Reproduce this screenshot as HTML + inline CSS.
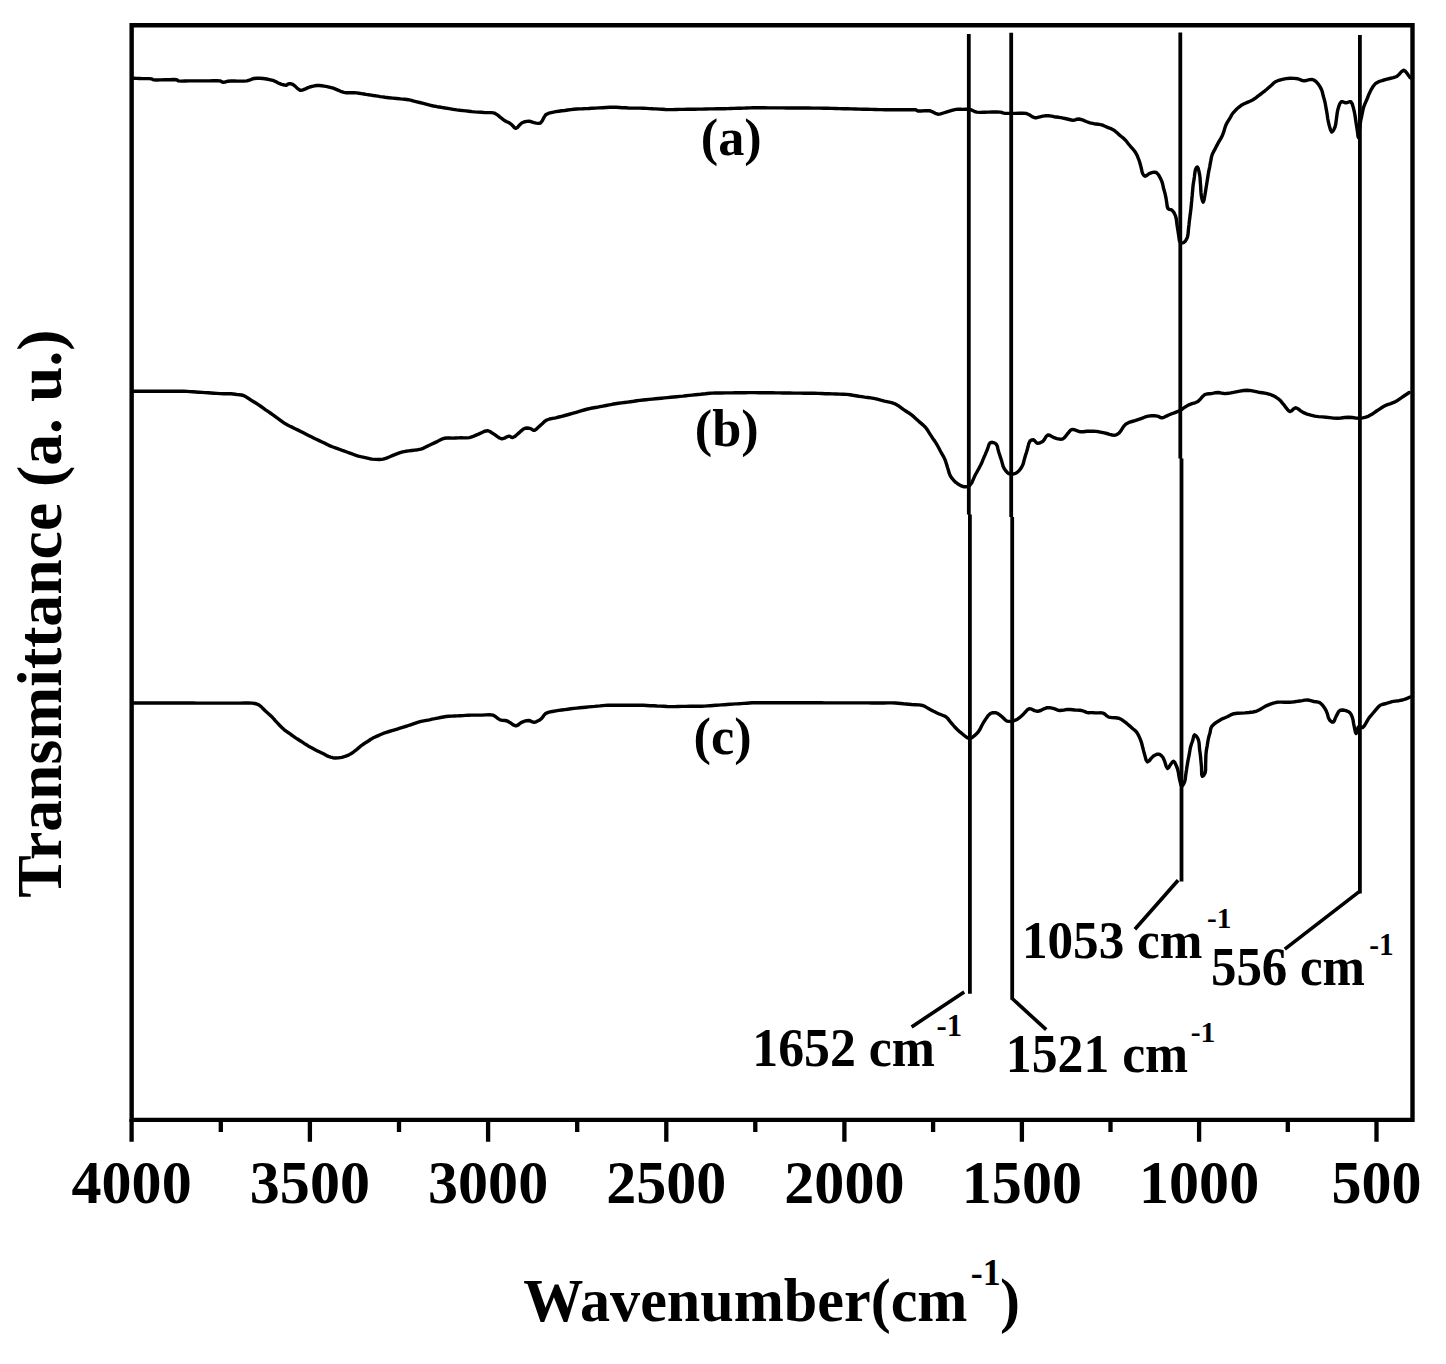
<!DOCTYPE html>
<html><head><meta charset="utf-8"><title>FTIR spectra</title><style>html,body{margin:0;padding:0;background:#fff;}svg{display:block;font-family:"Liberation Serif",serif;}</style></head><body>
<svg width="1446" height="1364" viewBox="0 0 1446 1364">
<rect width="1446" height="1364" fill="#fff"/>
<path d="M131.65,25.3 H1412.5 V1119.9 H131.65 Z" fill="none" stroke="#000" stroke-width="4.4" stroke-linejoin="miter"/>
<path d="M131.6,1119 V1141.8 M309.9,1119 V1141.8 M488.1,1119 V1141.8 M666.3,1119 V1141.8 M844.4,1119 V1141.8 M1021.9,1119 V1141.8 M1199.1,1119 V1141.8 M1376.5,1119 V1141.8 M220.8,1119 V1132 M399.0,1119 V1132 M577.2,1119 V1132 M755.3,1119 V1132 M933.1,1119 V1132 M1110.5,1119 V1132 M1287.8,1119 V1132" stroke="#000" stroke-width="4.3" fill="none"/>
<path d="M968.8,34.1 V514.4 M969.9,514.4 V993.7 M1011.2,32.7 V517 M1012.2,517 V999.8 M1180.3,32.5 V458.5 M1181.5,458.5 V881.6 M1359.9,34.9 V893.4" stroke="#000" stroke-width="3.8" fill="none"/>
<path d="M964.2,992.1 L911.6,1026.9 M1012.2,998.5 L1046.2,1029.7 M1178.1,880.3 L1134.9,929.3 M1359.9,891.1 L1284.8,949.1" stroke="#000" stroke-width="3.6" fill="none"/>
<polyline points="133.6,78.3 136.6,78.4 139.6,78.5 142.6,78.6 145.9,78.6 149.1,78.6 151.6,78.9 152.3,79.2 152.7,79.5 153.4,79.8 156.5,80.0 160.8,79.9 165.1,79.8 169.3,79.7 173.6,79.5 176.7,79.8 177.4,80.1 177.8,80.6 178.5,80.9 181.3,81.1 185.1,81.0 188.9,80.9 192.3,80.9 195.8,80.9 199.2,80.9 202.6,80.9 206.1,80.9 209.6,80.9 213.2,80.8 216.9,80.7 219.9,80.9 221.2,81.4 222.3,82.0 223.5,82.3 224.9,82.1 226.3,81.6 228.0,81.2 230.9,81.0 234.2,81.0 237.4,81.1 240.7,81.1 243.9,81.1 246.9,80.9 249.4,80.2 251.7,79.2 254.1,78.5 257.0,78.2 259.9,78.3 263.0,78.5 266.7,79.0 270.5,79.8 273.8,80.7 275.7,81.6 277.4,82.5 279.2,83.4 281.7,84.3 284.3,85.0 286.4,85.2 287.1,84.8 287.6,84.3 288.2,83.9 289.5,83.7 291.1,83.8 292.7,84.3 295.1,86.1 297.6,88.6 299.9,90.2 301.1,90.3 302.3,90.1 303.5,89.7 305.5,88.9 307.6,87.9 309.8,87.0 312.1,86.3 314.6,85.8 317.0,85.5 319.4,85.5 321.7,85.7 324.2,86.1 327.1,86.6 330.1,87.3 333.2,88.2 336.8,89.6 340.6,91.3 344.0,92.4 346.2,92.7 348.3,92.7 350.3,92.7 352.4,92.7 354.5,92.8 356.6,92.9 359.0,93.2 361.4,93.6 363.8,94.0 366.1,94.4 368.5,94.7 370.9,95.1 373.3,95.5 375.6,95.8 377.9,96.2 380.2,96.6 382.5,96.9 385.0,97.3 388.7,97.7 392.7,98.1 396.7,98.5 400.7,98.9 404.7,99.2 408.4,99.7 411.3,100.3 414.0,101.1 416.8,101.8 419.6,102.5 422.3,103.2 425.1,103.9 427.9,104.6 430.6,105.3 433.5,106.0 437.2,106.7 441.2,107.3 445.2,108.0 449.2,108.6 453.1,109.3 456.9,109.9 460.0,110.3 462.9,110.6 465.9,110.9 468.9,111.2 471.9,111.6 474.9,111.9 478.2,112.1 481.5,112.3 484.8,112.6 488.2,112.6 491.5,112.6 494.7,113.2 497.8,115.1 500.8,117.7 503.7,120.0 506.2,121.4 508.6,122.6 510.9,123.9 512.7,125.7 514.3,127.5 515.9,128.4 517.7,127.3 519.6,124.9 521.7,123.0 524.0,122.0 526.5,121.4 528.8,121.2 530.6,121.5 532.4,122.2 534.2,122.7 536.3,123.1 538.5,123.4 540.5,123.0 542.3,120.7 543.9,117.4 545.9,114.6 548.9,113.2 552.4,112.3 555.8,111.7 558.8,111.2 561.8,110.8 564.8,110.5 567.8,110.0 570.8,109.6 573.8,109.2 576.8,109.0 579.8,108.9 582.8,108.8 585.8,108.6 588.7,108.5 591.8,108.3 595.3,108.1 599.0,107.9 602.6,107.7 606.2,107.5 609.9,107.3 613.4,107.2 616.4,107.3 619.4,107.5 622.3,107.7 625.3,107.8 628.3,108.0 631.3,108.1 634.2,108.1 637.1,108.1 640.0,108.1 643.2,108.2 646.4,108.4 649.6,108.6 652.8,108.8 656.0,108.9 659.2,109.1 662.4,109.3 665.5,109.5 668.8,109.6 672.5,109.6 676.2,109.5 679.9,109.4 683.7,109.4 687.4,109.3 691.1,109.2 694.8,109.2 698.5,109.1 702.2,109.1 705.9,109.0 709.6,108.9 713.4,108.9 717.1,108.8 720.8,108.8 724.5,108.7 727.8,108.6 730.9,108.5 734.1,108.4 737.3,108.3 740.5,108.2 743.7,108.1 746.9,108.0 750.0,107.9 753.3,107.8 756.9,107.8 760.7,107.8 764.4,107.8 768.1,107.9 771.8,107.9 775.5,107.9 779.2,107.9 782.9,107.9 786.6,108.0 790.2,108.0 793.9,108.0 797.6,108.0 801.3,108.0 805.0,108.0 808.7,108.0 812.4,108.1 816.1,108.1 819.8,108.1 823.7,108.2 827.7,108.3 831.7,108.4 835.6,108.5 839.6,108.6 843.5,108.7 847.5,108.8 851.4,108.9 855.4,109.0 859.3,109.1 863.3,109.2 867.2,109.3 871.3,109.4 875.3,109.5 879.1,109.6 881.9,109.6 884.5,109.7 887.0,109.7 889.7,109.7 892.3,109.8 895.0,109.8 898.3,109.8 901.8,109.8 905.4,109.8 909.1,109.7 912.8,109.6 915.7,109.8 916.5,110.2 917.0,110.6 917.8,111.0 921.1,111.0 925.5,110.6 929.6,110.7 932.5,111.8 935.2,113.3 937.9,114.2 940.6,113.9 943.4,113.0 946.2,112.1 949.4,111.1 952.8,110.1 955.9,109.4 958.3,109.3 960.5,109.3 962.8,109.4 965.1,109.3 967.4,109.2 969.7,109.4 971.9,110.2 974.2,111.3 976.6,112.1 980.3,112.4 984.3,112.2 988.4,112.1 992.5,112.0 996.6,111.9 1000.1,112.1 1001.6,112.4 1002.8,112.9 1004.3,113.2 1007.6,113.4 1011.5,113.4 1015.4,113.4 1019.1,113.2 1022.9,113.1 1026.4,113.5 1029.3,114.8 1032.1,116.6 1034.7,117.7 1036.8,117.7 1038.9,117.2 1040.9,116.7 1043.0,116.2 1045.0,115.8 1047.1,115.6 1049.4,115.8 1051.7,116.2 1054.0,116.7 1056.4,117.0 1058.7,117.3 1061.0,117.7 1063.1,118.1 1065.1,118.5 1067.2,119.0 1069.3,119.5 1071.4,120.0 1073.4,120.2 1075.2,119.9 1077.0,119.2 1079.0,119.0 1082.4,119.9 1086.2,121.5 1090.0,122.9 1094.0,123.7 1098.1,124.2 1101.7,124.9 1103.8,125.7 1105.7,126.5 1107.6,127.4 1109.6,128.2 1111.6,128.9 1113.5,129.9 1115.5,131.4 1117.4,133.1 1119.3,134.9 1121.3,136.5 1123.3,138.1 1125.2,139.9 1127.0,142.0 1128.7,144.2 1130.4,146.3 1132.3,148.4 1134.1,150.5 1135.7,152.8 1137.1,155.4 1138.3,158.3 1139.3,161.0 1140.0,163.2 1140.5,165.3 1141.1,167.4 1141.6,169.7 1142.1,172.0 1142.8,173.9 1143.5,174.9 1144.2,175.8 1145.1,176.2 1146.5,175.7 1148.1,174.4 1149.8,173.3 1151.9,172.6 1154.2,172.2 1156.3,172.5 1158.4,174.6 1160.2,177.8 1161.6,180.9 1162.4,183.1 1162.9,185.2 1163.3,187.3 1163.9,189.5 1164.5,191.6 1165.1,193.8 1165.6,196.2 1166.1,198.7 1166.5,201.2 1166.9,203.8 1167.2,206.5 1168.0,208.5 1169.2,209.3 1170.7,209.6 1172.1,210.3 1173.5,211.9 1174.6,213.9 1175.6,216.1 1176.3,219.0 1176.7,222.3 1177.1,225.5 1177.6,228.7 1178.1,231.8 1178.6,234.9 1179.0,237.8 1179.4,240.7 1180.3,242.5 1181.4,242.9 1182.6,242.9 1183.8,242.5 1185.2,241.3 1186.4,239.4 1187.4,237.2 1188.0,234.3 1188.3,231.1 1188.6,227.8 1189.0,224.7 1189.3,221.6 1189.7,218.5 1190.1,215.3 1190.5,212.2 1190.9,209.1 1191.2,206.3 1191.4,203.6 1191.7,200.9 1191.9,198.2 1192.2,195.4 1192.4,192.7 1192.7,190.0 1192.9,187.2 1193.2,184.5 1193.6,181.9 1194.0,179.4 1194.4,176.8 1194.7,174.1 1195.1,171.4 1195.6,169.2 1196.1,168.1 1196.7,167.2 1197.3,166.9 1198.2,168.4 1199.0,171.7 1199.7,175.1 1200.1,178.5 1200.3,182.1 1200.6,185.6 1200.8,189.3 1201.0,192.9 1201.4,196.2 1201.9,198.7 1202.6,201.1 1203.2,202.1 1204.0,200.1 1204.8,195.8 1205.5,191.5 1206.0,188.3 1206.5,185.2 1207.0,182.1 1207.5,179.0 1208.0,175.8 1208.5,172.7 1209.1,169.7 1209.7,166.8 1210.2,163.9 1210.8,160.9 1211.3,157.9 1212.0,155.1 1212.9,153.0 1213.9,151.1 1215.0,149.2 1215.9,147.3 1216.9,145.4 1217.9,143.4 1219.4,140.8 1221.0,138.1 1222.5,135.2 1223.8,131.7 1224.9,127.9 1226.1,124.6 1227.2,122.5 1228.4,120.6 1229.6,118.7 1230.7,116.8 1231.7,114.9 1233.1,112.9 1235.5,110.3 1238.3,107.6 1241.3,105.3 1244.2,103.7 1247.3,102.4 1250.0,101.2 1251.6,100.4 1253.0,99.7 1254.4,98.8 1256.1,97.6 1257.9,96.2 1259.7,94.8 1261.5,93.5 1263.2,92.2 1265.0,90.8 1266.8,89.3 1268.5,87.8 1270.3,86.2 1272.0,84.7 1273.6,83.1 1275.6,81.7 1278.8,80.3 1282.4,79.3 1286.1,78.6 1290.1,78.3 1294.2,78.4 1297.9,78.8 1300.0,79.5 1301.8,80.4 1303.8,80.9 1306.5,80.5 1309.4,79.6 1312.0,79.4 1313.7,80.0 1315.3,81.0 1316.7,82.3 1318.5,84.4 1320.1,86.9 1321.4,89.4 1322.2,91.5 1322.7,93.7 1323.2,95.8 1323.8,97.9 1324.4,100.0 1325.0,102.3 1325.6,105.5 1326.2,108.9 1326.8,112.3 1327.3,115.6 1327.8,119.0 1328.5,122.3 1329.4,126.2 1330.6,130.1 1331.8,132.0 1332.9,131.2 1334.0,129.2 1335.0,127.0 1335.7,124.3 1336.1,121.2 1336.5,118.2 1336.9,115.2 1337.3,112.3 1337.9,109.4 1338.8,106.4 1339.9,103.5 1341.4,101.7 1342.8,101.7 1344.5,102.5 1346.1,102.9 1347.7,102.4 1349.4,101.7 1350.8,101.7 1352.3,104.0 1353.4,107.9 1354.3,111.7 1354.9,114.8 1355.4,118.0 1355.8,121.1 1356.3,124.3 1356.8,127.5 1357.3,130.5 1357.7,133.5 1358.0,136.3 1358.4,137.6 1358.8,136.0 1359.2,132.4 1359.6,128.8 1360.0,125.8 1360.4,122.8 1360.8,120.0 1361.3,117.8 1361.8,115.6 1362.2,113.5 1362.7,111.3 1363.1,109.2 1363.7,107.0 1364.6,104.7 1365.6,102.3 1366.7,100.0 1367.6,97.6 1368.5,95.3 1369.6,92.9 1371.2,89.6 1373.1,86.3 1375.5,83.5 1378.7,81.7 1382.4,80.5 1386.1,79.4 1389.7,78.5 1393.4,77.7 1396.7,76.5 1399.3,74.2 1401.6,71.5 1403.7,70.3 1405.4,71.3 1407.1,73.4 1408.4,75.3 1409.1,76.1 1409.6,76.9 1410.2,77.6" fill="none" stroke="#000" stroke-width="3.4" stroke-linejoin="round" stroke-linecap="round"/>
<polyline points="133.6,391.2 137.0,391.2 140.3,391.2 143.7,391.2 147.0,391.2 150.4,391.2 153.7,391.2 157.1,391.2 160.4,391.2 163.8,391.2 167.1,391.2 170.5,391.2 173.8,391.2 177.2,391.2 180.6,391.2 183.9,391.2 186.9,391.4 189.9,391.6 192.9,391.8 195.9,392.0 198.9,392.2 201.9,392.4 205.0,392.6 208.0,392.8 211.0,393.0 213.9,393.2 216.9,393.4 220.0,393.6 223.7,393.7 227.6,393.7 231.1,393.8 233.3,394.0 235.3,394.3 237.3,394.6 239.4,394.8 241.4,395.0 243.5,395.5 246.0,396.8 248.6,398.5 251.1,400.2 253.7,401.8 256.2,403.3 258.7,404.9 261.0,406.5 263.3,408.1 265.6,409.8 268.0,411.4 270.3,413.0 272.6,414.6 274.7,416.1 276.7,417.6 278.8,419.1 280.8,420.6 282.9,422.2 285.0,423.6 287.5,424.9 290.0,426.2 292.6,427.4 295.1,428.7 297.6,429.9 300.2,431.2 302.9,432.6 305.7,434.0 308.5,435.4 311.3,436.8 314.1,438.2 316.8,439.5 319.2,440.6 321.5,441.7 323.8,442.8 326.1,443.9 328.4,445.1 330.7,446.1 333.0,447.0 335.3,447.8 337.6,448.6 339.9,449.5 342.2,450.4 344.5,451.2 346.8,452.0 349.1,452.8 351.4,453.6 353.7,454.5 356.0,455.4 358.3,456.1 360.6,456.7 362.9,457.1 365.2,457.6 367.4,458.1 369.7,458.7 372.1,459.1 375.6,459.4 379.5,459.5 383.2,459.1 386.5,458.1 389.7,456.8 392.9,455.4 396.1,454.1 399.4,452.9 402.6,451.9 405.7,451.3 408.7,450.9 411.8,450.5 414.9,450.1 418.0,449.7 421.0,449.1 423.7,448.1 426.2,446.8 428.8,445.5 431.4,444.3 433.9,443.1 436.5,441.9 439.1,440.6 441.7,439.2 444.3,438.3 447.0,438.0 449.9,438.0 452.7,438.1 455.5,438.0 458.3,437.9 461.1,437.8 463.9,437.9 466.7,437.9 469.5,437.6 472.5,436.7 475.5,435.4 478.5,434.1 481.5,432.7 484.6,431.2 487.5,430.7 490.0,431.5 492.3,433.1 494.7,434.7 497.1,436.4 499.5,438.0 501.9,438.8 504.4,438.2 506.9,436.8 509.1,436.1 510.4,436.5 511.5,437.3 512.7,437.6 514.7,436.6 516.8,434.8 519.0,432.9 521.0,431.1 523.1,429.3 525.2,428.2 527.0,428.0 528.9,428.2 530.6,428.6 531.8,429.3 533.0,430.1 534.2,430.4 536.2,429.3 538.3,427.3 540.5,425.2 542.5,423.4 544.5,421.5 546.8,420.0 549.6,419.0 552.7,418.4 555.8,417.8 558.8,417.0 561.7,416.3 564.8,415.5 568.5,414.5 572.4,413.4 576.2,412.3 580.1,411.1 584.0,410.0 587.7,409.0 590.8,408.3 593.9,407.8 596.9,407.3 600.0,406.7 603.0,406.1 606.1,405.5 609.2,404.9 612.2,404.3 615.3,403.8 618.4,403.3 621.5,402.9 624.5,402.5 627.6,402.1 630.7,401.7 633.8,401.3 636.8,400.8 639.9,400.4 643.0,400.0 646.1,399.7 649.1,399.4 652.2,399.1 655.3,398.8 658.3,398.5 661.4,398.2 664.5,397.9 667.5,397.6 670.6,397.3 673.7,397.0 676.8,396.7 679.8,396.4 682.9,396.1 686.0,395.7 689.1,395.4 692.2,395.1 695.3,394.8 698.3,394.5 700.7,394.3 702.9,394.0 705.2,393.8 707.5,393.5 709.7,393.3 712.1,393.1 715.3,393.0 718.6,393.0 721.9,393.0 725.2,392.9 728.5,392.9 731.8,392.9 735.1,392.8 738.4,392.8 741.6,392.7 744.9,392.7 748.2,392.6 751.5,392.6 755.0,392.6 758.5,392.7 762.0,392.7 765.5,392.8 769.0,392.8 772.5,392.8 776.0,392.9 779.5,392.9 783.0,393.0 786.4,393.0 789.9,393.0 793.4,393.1 796.9,393.1 800.4,393.1 803.9,393.2 807.4,393.2 810.9,393.2 814.4,393.3 818.0,393.4 821.6,393.5 825.2,393.7 828.8,393.8 832.4,393.9 836.0,394.0 839.6,394.1 843.3,394.2 846.8,394.4 849.9,394.8 852.8,395.3 855.8,395.7 858.8,396.2 861.7,396.6 864.7,397.1 867.7,397.5 870.7,397.9 873.7,398.4 877.2,399.2 880.8,400.2 884.4,401.1 888.0,401.9 891.6,402.7 895.0,403.8 897.9,405.4 900.6,407.4 903.3,409.4 906.1,411.2 908.9,413.0 911.6,414.9 914.0,416.9 916.2,419.0 918.5,421.1 920.9,423.1 923.2,425.1 925.4,427.3 927.4,429.9 929.2,432.8 931.0,435.6 932.8,438.4 934.7,441.1 936.5,443.9 938.0,446.5 939.3,449.0 940.6,451.5 942.1,454.1 943.5,456.6 944.8,459.2 945.8,461.9 946.7,464.7 947.5,467.5 948.4,470.3 949.2,473.2 950.3,475.8 951.9,478.2 953.8,480.4 955.9,482.4 958.5,484.3 961.4,485.9 964.2,486.8 966.1,486.8 968.0,486.4 969.7,485.4 971.8,482.7 973.5,478.9 975.2,475.0 977.2,471.5 979.1,468.0 980.8,464.7 982.0,462.2 983.0,459.7 984.0,457.3 985.1,454.9 986.1,452.4 987.2,450.0 988.1,447.2 989.1,444.3 990.4,442.6 992.2,442.3 994.3,442.9 996.0,443.9 997.3,446.1 998.0,449.2 998.8,452.2 999.7,455.0 1000.6,457.7 1001.5,460.5 1002.3,463.4 1003.1,466.2 1004.3,468.8 1005.9,471.0 1007.7,472.9 1009.8,474.1 1012.1,474.3 1014.5,473.7 1016.7,472.7 1018.8,471.0 1020.7,468.6 1022.2,466.1 1023.3,463.5 1024.0,460.6 1024.8,457.8 1025.6,455.0 1026.5,452.3 1027.3,449.5 1028.1,446.5 1028.8,443.4 1029.9,441.2 1030.9,440.4 1032.1,439.9 1033.3,439.8 1034.7,440.7 1036.0,442.3 1037.5,443.3 1039.3,443.1 1041.2,442.3 1043.0,441.2 1044.6,439.1 1046.1,436.5 1047.8,435.0 1049.7,435.3 1051.9,436.6 1054.1,437.7 1056.9,438.6 1059.8,439.2 1062.4,439.1 1064.2,437.9 1065.7,436.1 1067.2,434.2 1068.7,432.4 1070.2,430.5 1072.0,429.4 1074.5,429.7 1077.4,430.9 1080.3,431.8 1083.5,431.8 1086.8,431.3 1090.0,431.1 1093.1,431.2 1096.1,431.4 1099.0,431.8 1101.7,432.3 1104.3,432.9 1106.8,433.5 1109.6,434.3 1112.3,435.0 1114.7,435.2 1116.3,434.8 1117.8,434.0 1119.2,432.9 1121.3,430.2 1123.5,426.7 1126.0,423.9 1128.9,422.4 1132.0,421.5 1135.0,420.6 1137.3,419.8 1139.5,419.1 1141.7,418.4 1143.9,417.5 1146.1,416.7 1148.4,416.1 1151.4,415.8 1154.6,415.8 1157.4,416.1 1159.0,416.7 1160.4,417.5 1161.9,417.9 1164.1,417.3 1166.4,416.1 1168.7,415.0 1170.6,414.2 1172.5,413.5 1174.3,412.8 1176.1,412.1 1178.0,411.4 1179.9,410.5 1182.7,408.7 1185.8,406.6 1188.9,404.8 1192.0,403.7 1195.1,402.8 1197.9,401.5 1200.3,399.3 1202.3,396.7 1204.6,394.7 1206.8,394.0 1209.1,393.8 1211.3,393.6 1213.6,393.2 1215.8,392.7 1218.1,392.5 1220.3,392.8 1222.5,393.3 1224.9,393.6 1228.4,393.3 1232.3,392.6 1236.1,391.9 1239.8,391.2 1243.6,390.5 1247.3,390.2 1251.1,390.6 1254.8,391.4 1258.5,392.2 1262.4,392.8 1266.2,393.4 1269.8,394.3 1273.0,395.6 1276.1,397.3 1278.8,399.2 1280.8,401.1 1282.6,403.3 1284.4,405.4 1286.2,407.9 1288.1,410.3 1290.0,411.6 1291.8,410.7 1293.7,408.8 1295.7,407.8 1298.1,408.8 1300.7,410.8 1303.5,412.7 1307.1,414.1 1310.9,415.2 1314.8,416.1 1318.5,416.6 1322.3,416.9 1326.0,417.2 1329.7,417.6 1333.5,418.1 1337.2,418.3 1341.0,418.0 1344.7,417.5 1348.5,417.2 1352.3,417.5 1356.1,418.1 1359.7,418.3 1362.8,417.9 1365.8,417.2 1368.7,416.1 1371.4,414.6 1374.0,412.8 1376.6,411.0 1379.2,409.3 1381.9,407.5 1384.4,406.0 1386.3,405.1 1388.2,404.4 1390.1,403.8 1391.9,403.1 1393.8,402.4 1395.7,401.5 1397.9,400.2 1400.2,398.6 1402.4,397.0 1404.7,395.5 1407.0,394.0 1409.2,392.5" fill="none" stroke="#000" stroke-width="3.4" stroke-linejoin="round" stroke-linecap="round"/>
<polyline points="133.6,703.0 137.6,703.0 141.5,703.0 145.5,703.0 149.4,703.0 153.4,703.0 157.3,703.0 161.3,703.0 165.2,703.0 169.2,703.0 173.1,703.0 177.1,703.0 181.0,703.0 185.0,703.0 188.9,703.0 192.9,703.0 196.9,703.1 200.8,703.1 204.8,703.1 208.7,703.1 212.7,703.1 216.6,703.1 220.6,703.1 224.5,703.1 228.5,703.1 232.4,703.1 236.4,703.1 240.3,703.1 244.4,703.0 248.5,702.9 252.2,703.1 254.6,703.5 256.7,704.0 258.8,704.9 261.1,706.6 263.2,708.8 265.4,711.0 267.7,713.0 269.9,715.0 272.1,717.1 274.0,719.1 275.7,721.2 277.6,723.2 279.8,725.5 282.1,727.8 284.3,729.8 286.1,731.2 288.0,732.5 289.8,733.7 291.6,735.0 293.5,736.3 295.3,737.6 297.1,738.8 299.0,740.0 300.9,741.2 302.7,742.4 304.5,743.6 306.4,744.8 308.2,745.9 310.1,746.9 312.0,747.9 313.8,748.9 315.6,749.9 317.5,750.9 319.3,751.8 321.2,752.7 323.0,753.6 324.8,754.6 326.6,755.6 328.5,756.4 330.6,757.1 332.8,757.7 335.2,758.0 338.4,757.9 341.8,757.3 345.1,756.4 347.8,755.4 350.4,754.1 352.9,752.5 355.9,750.2 358.9,747.6 361.7,745.3 363.6,744.0 365.4,742.8 367.2,741.7 369.1,740.5 370.9,739.2 372.8,738.1 374.6,737.2 376.5,736.4 378.3,735.6 380.1,734.8 381.9,734.0 383.8,733.2 386.4,732.3 389.1,731.5 391.9,730.7 394.6,729.9 397.2,729.1 400.0,728.2 403.4,727.1 407.0,726.0 410.5,724.8 414.0,723.6 417.6,722.4 421.0,721.4 423.8,720.8 426.6,720.3 429.4,719.8 432.2,719.2 434.9,718.7 437.7,718.1 440.5,717.5 443.3,717.0 446.1,716.5 448.9,716.3 451.7,716.1 454.5,716.0 457.3,715.9 460.1,715.7 462.9,715.6 465.7,715.4 468.4,715.2 471.3,715.1 474.8,715.1 478.4,715.1 482.1,715.1 485.8,714.9 489.5,714.7 492.9,715.1 495.4,716.5 497.7,718.4 500.1,719.9 502.5,720.4 504.9,720.5 507.3,721.0 510.2,722.7 513.2,724.9 515.9,725.9 517.9,725.1 519.7,723.6 521.7,722.3 524.0,721.4 526.5,720.7 528.8,720.5 530.6,721.0 532.4,721.9 534.2,722.3 536.6,721.6 539.2,720.3 541.4,718.7 542.9,716.9 544.2,714.9 545.9,713.3 548.9,712.1 552.3,711.5 555.8,710.9 558.8,710.4 561.8,710.0 564.8,709.6 567.8,709.2 570.8,708.8 573.8,708.4 576.8,708.1 579.8,707.8 582.8,707.5 585.8,707.2 588.8,706.9 591.8,706.6 594.5,706.4 597.2,706.1 599.9,705.9 602.6,705.6 605.2,705.4 608.0,705.2 611.4,705.1 615.1,705.2 618.7,705.2 622.2,705.2 625.8,705.2 629.3,705.2 632.9,705.2 636.5,705.2 640.0,705.2 643.4,705.3 646.8,705.5 650.2,705.7 653.6,705.8 657.0,706.0 660.4,706.1 663.8,706.3 667.2,706.5 670.6,706.6 674.3,706.6 678.2,706.5 682.0,706.4 685.8,706.4 689.5,706.3 693.3,706.3 697.2,706.2 701.0,706.2 704.7,706.1 707.6,705.9 710.3,705.7 713.1,705.5 715.9,705.3 718.7,705.1 721.5,704.9 724.3,704.7 727.1,704.5 729.9,704.3 732.7,704.1 735.5,703.9 738.3,703.8 741.1,703.6 743.9,703.4 746.7,703.2 749.4,703.0 752.2,702.8 755.1,702.7 758.9,702.7 762.8,702.7 766.8,702.7 770.7,702.7 774.6,702.7 778.5,702.8 782.4,702.8 786.3,702.8 790.1,702.8 794.0,702.8 797.9,702.8 801.8,702.8 805.7,702.8 809.6,702.8 813.5,702.8 817.4,702.8 821.3,702.8 825.2,702.9 829.1,702.9 833.0,702.9 836.9,702.9 840.8,702.9 844.7,702.9 848.6,702.9 852.5,702.9 856.4,702.9 860.2,702.9 864.1,702.9 868.0,702.9 871.9,703.0 875.8,703.0 879.7,703.0 883.6,703.0 887.6,702.9 891.6,702.9 895.3,703.0 898.1,703.2 900.8,703.5 903.5,703.8 906.1,704.0 908.8,704.2 911.6,704.5 915.3,704.7 919.2,704.9 922.7,705.5 924.9,706.4 926.9,707.6 928.9,708.8 931.0,709.9 933.1,711.1 935.1,712.1 937.0,713.0 938.8,713.8 940.7,714.5 942.6,715.3 944.5,716.0 946.2,717.0 947.7,718.4 949.0,720.1 950.3,721.8 951.7,723.4 953.0,725.0 954.5,726.7 957.0,729.2 959.9,731.9 962.8,734.3 965.1,736.2 967.4,737.8 969.7,738.4 972.5,737.3 975.4,734.9 978.0,732.2 980.0,729.2 981.7,725.8 983.5,722.5 985.7,719.1 988.0,715.8 990.4,713.5 992.2,712.8 994.1,712.6 996.0,712.8 997.9,713.6 999.7,714.9 1001.5,716.3 1003.3,718.0 1005.1,719.8 1007.0,721.1 1009.3,721.4 1011.7,721.2 1014.0,720.7 1015.9,719.9 1017.8,718.9 1019.5,717.7 1021.2,716.3 1022.8,714.8 1024.3,713.2 1025.9,711.5 1027.4,709.7 1029.2,708.7 1031.7,709.2 1034.6,710.6 1037.5,711.4 1040.7,710.5 1044.0,708.8 1047.1,707.7 1049.5,707.7 1051.9,708.2 1054.1,708.7 1055.9,709.3 1057.7,710.1 1059.6,710.5 1062.3,710.3 1065.1,709.8 1067.9,709.4 1070.2,709.5 1072.5,709.7 1074.8,710.0 1077.1,710.1 1079.4,710.2 1081.7,710.5 1084.2,711.3 1086.7,712.3 1088.6,712.8 1089.1,712.8 1089.5,712.7 1090.0,712.6 1091.9,712.6 1094.3,712.8 1096.7,712.9 1098.9,712.9 1101.2,712.8 1103.3,713.2 1105.1,714.3 1106.8,715.9 1108.8,717.1 1111.9,717.6 1115.5,717.7 1118.8,718.2 1121.6,719.6 1124.1,721.4 1126.5,723.2 1128.3,724.7 1129.9,726.1 1131.5,727.6 1133.2,729.0 1134.9,730.3 1136.5,732.0 1138.2,734.7 1139.7,737.9 1140.9,740.9 1141.6,743.0 1142.1,745.0 1142.6,747.0 1143.1,748.9 1143.6,750.9 1144.2,753.0 1145.1,756.4 1146.1,760.0 1147.5,761.9 1149.2,760.9 1151.1,758.4 1153.1,756.3 1154.9,755.2 1156.8,754.3 1158.6,754.1 1160.2,754.7 1161.6,755.9 1163.0,757.5 1164.7,761.4 1166.1,766.1 1167.5,768.5 1168.6,767.7 1169.7,765.8 1170.8,764.1 1171.7,762.9 1172.6,761.7 1173.5,761.3 1174.9,762.6 1176.2,765.5 1177.4,768.5 1178.3,772.1 1178.9,776.0 1179.6,779.6 1180.3,782.4 1181.0,785.0 1181.8,786.2 1182.7,785.5 1183.7,783.8 1184.6,781.8 1185.3,779.1 1185.6,776.0 1186.0,773.0 1186.5,770.0 1186.9,767.0 1187.4,764.1 1187.9,761.1 1188.5,758.2 1189.1,755.2 1189.6,752.2 1190.1,749.2 1190.7,746.4 1191.3,744.4 1192.0,742.5 1192.7,740.6 1193.2,738.3 1193.8,735.9 1194.6,734.8 1195.8,735.6 1197.3,737.6 1198.4,739.8 1199.0,742.5 1199.3,745.6 1199.5,748.6 1199.9,751.6 1200.3,754.5 1200.6,757.5 1200.9,760.6 1201.2,763.8 1201.5,766.9 1201.6,770.7 1201.7,774.4 1202.3,776.3 1203.2,775.9 1204.2,774.5 1205.1,772.9 1205.6,769.9 1205.6,766.1 1205.7,762.4 1205.8,758.8 1205.9,755.2 1206.2,751.9 1206.5,749.6 1206.9,747.4 1207.3,745.2 1207.6,743.0 1208.0,740.8 1208.4,738.6 1208.9,736.6 1209.5,734.6 1210.1,732.5 1210.4,730.5 1210.8,728.5 1211.7,726.5 1214.1,724.0 1217.4,721.7 1220.6,719.8 1222.8,718.6 1225.0,717.7 1227.2,716.8 1229.3,715.7 1231.4,714.6 1233.8,713.7 1237.3,713.2 1241.1,713.1 1245.0,712.9 1249.0,712.5 1253.0,712.0 1256.8,711.1 1260.0,709.5 1263.1,707.6 1266.2,705.8 1269.7,704.4 1273.3,703.1 1276.7,702.3 1279.3,702.1 1281.8,702.1 1284.3,702.2 1286.9,702.2 1289.5,702.2 1292.0,702.1 1294.6,701.8 1297.1,701.4 1299.7,701.0 1302.2,700.6 1304.8,700.1 1307.3,700.0 1309.5,700.3 1311.6,700.9 1313.8,701.5 1316.0,701.8 1318.2,702.1 1320.2,702.9 1322.4,704.9 1324.4,707.7 1326.1,710.6 1327.4,713.9 1328.3,717.4 1329.6,720.0 1330.8,721.2 1332.0,722.0 1333.2,722.1 1334.3,720.9 1335.1,718.6 1336.1,716.4 1337.3,714.1 1338.5,711.8 1340.2,710.3 1342.8,710.0 1345.9,710.6 1348.5,711.7 1350.0,712.9 1351.1,714.5 1352.0,716.4 1353.0,719.7 1353.6,723.5 1354.3,727.0 1354.9,729.8 1355.5,732.3 1356.1,733.5 1356.7,732.0 1357.4,729.1 1358.4,727.0 1359.7,727.0 1361.2,727.6 1362.6,727.6 1364.6,725.5 1366.5,722.1 1368.4,718.8 1370.3,716.3 1372.3,714.0 1374.3,711.7 1376.2,709.4 1378.1,707.1 1380.2,705.3 1382.1,704.5 1384.1,704.0 1386.1,703.5 1388.0,702.9 1389.9,702.3 1392.0,701.7 1395.3,701.1 1399.0,700.7 1402.5,700.0 1405.2,699.1 1407.7,698.1 1410.2,697.0" fill="none" stroke="#000" stroke-width="3.4" stroke-linejoin="round" stroke-linecap="round"/>
<text transform="translate(523.20,1321.20) scale(1,1.024)" font-family="Liberation Serif" font-weight="bold" font-size="60.15">Wavenumber(cm</text>
<text transform="translate(970.84,1285.10) scale(1,1.064)" font-family="Liberation Serif" font-weight="bold" font-size="35.9">-1</text>
<text transform="translate(1000.00,1321.20) scale(1,1.024)" font-family="Liberation Serif" font-weight="bold" font-size="60.15">)</text>
<text transform="translate(700.71,154.50) scale(1,1.0)" font-family="Liberation Serif" font-weight="bold" font-size="52.3">(a)</text>
<text transform="translate(694.81,445.50) scale(1,1.0)" font-family="Liberation Serif" font-weight="bold" font-size="52.3">(b)</text>
<text transform="translate(693.51,753.80) scale(1,1.0)" font-family="Liberation Serif" font-weight="bold" font-size="52.3">(c)</text>
<text transform="translate(752.26,1066.00) scale(1,1.06)" font-family="Liberation Serif" font-weight="bold" font-size="51.8">1652 cm</text>
<text transform="translate(936.53,1035.80) scale(1,1.03)" font-family="Liberation Serif" font-weight="bold" font-size="30.7">-1</text>
<text transform="translate(1005.86,1072.10) scale(1,1.06)" font-family="Liberation Serif" font-weight="bold" font-size="51.7">1521 cm</text>
<text transform="translate(1190.66,1041.50) scale(1,1.02)" font-family="Liberation Serif" font-weight="bold" font-size="29.7">-1</text>
<text transform="translate(1021.90,958.00) scale(1,1.05)" font-family="Liberation Serif" font-weight="bold" font-size="51.2">1053 cm</text>
<text transform="translate(1206.97,928.00) scale(1,1.03)" font-family="Liberation Serif" font-weight="bold" font-size="29.3">-1</text>
<text transform="translate(1210.96,984.70) scale(1,1.07)" font-family="Liberation Serif" font-weight="bold" font-size="50.9">556 cm</text>
<text transform="translate(1369.27,954.50) scale(1,1.045)" font-family="Liberation Serif" font-weight="bold" font-size="29.3">-1</text>
<text transform="translate(131.60,1203.2) scale(1,1.013)" font-family="Liberation Serif" font-weight="bold" font-size="60.1" text-anchor="middle">4000</text>
<text transform="translate(309.90,1203.2) scale(1,1.013)" font-family="Liberation Serif" font-weight="bold" font-size="60.1" text-anchor="middle">3500</text>
<text transform="translate(488.10,1203.2) scale(1,1.013)" font-family="Liberation Serif" font-weight="bold" font-size="60.1" text-anchor="middle">3000</text>
<text transform="translate(666.30,1203.2) scale(1,1.013)" font-family="Liberation Serif" font-weight="bold" font-size="60.1" text-anchor="middle">2500</text>
<text transform="translate(844.40,1203.2) scale(1,1.013)" font-family="Liberation Serif" font-weight="bold" font-size="60.1" text-anchor="middle">2000</text>
<text transform="translate(1021.90,1203.2) scale(1,1.013)" font-family="Liberation Serif" font-weight="bold" font-size="60.1" text-anchor="middle">1500</text>
<text transform="translate(1199.10,1203.2) scale(1,1.013)" font-family="Liberation Serif" font-weight="bold" font-size="60.1" text-anchor="middle">1000</text>
<text transform="translate(1376.50,1203.2) scale(1,1.013)" font-family="Liberation Serif" font-weight="bold" font-size="60.1" text-anchor="middle">500</text>
<text transform="translate(61.1,897.86) rotate(-90) scale(1,1.005)" font-family="Liberation Serif" font-weight="bold" font-size="63.7">Transmittance (a. u.)</text>
</svg>
</body></html>
